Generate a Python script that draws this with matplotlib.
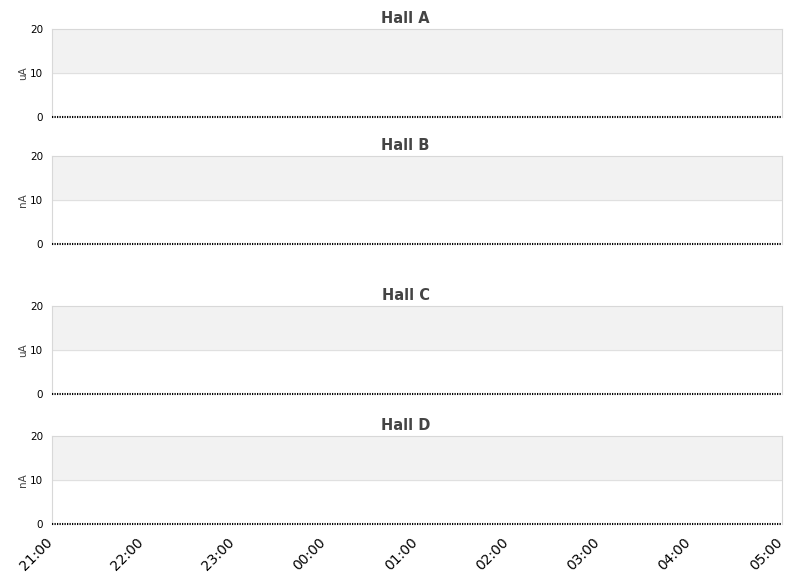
import numpy as np
import pandas as pd
import matplotlib.pyplot as plt
import matplotlib.dates as mdates
from matplotlib.transforms import ScaledTranslation

# beam current per hall, 21:00 -> 05:00 (all zero in this window)
halls = ['Hall A', 'Hall B', 'Hall C', 'Hall D']
units = ['uA', 'nA', 'uA', 'nA']
times = pd.date_range('2024-01-01 21:00', '2024-01-02 05:00', freq='5min')
currents = {h: np.zeros(len(times)) for h in halls}
yticks = [0, 10, 20]

fig = plt.figure(figsize=(8.11, 5.78), dpi=100)

W, H = 811, 578
# panel pixel boxes (top, bottom)
boxes = [(29, 117), (156, 244), (306, 394), (436, 524)]
left, right = 52, 782
title_x = (W / 2 - left) / (right - left)   # titles centred on the figure

for i, (hall, unit) in enumerate(zip(halls, units)):
    top, bot = boxes[i]
    ax = fig.add_axes([left / W, 1 - bot / H, (right - left) / W, (bot - top) / H])
    ax.axhspan(10, 20, color='#f2f2f2', zorder=0)
    ax.axhline(10, color='#e0e0e0', lw=0.8, zorder=1)
    ax.plot(times, currents[hall], color='black', lw=1.5, dashes=(0.6, 0.6),
            clip_on=False, zorder=3)
    ax.set_ylim(0, 20)
    ax.set_xlim(times[0], times[-1])
    ax.set_yticks(yticks)
    ax.tick_params(axis='y', length=0, pad=6.5, labelsize=7.5)
    ax.tick_params(axis='x', length=0)
    for s in ['left', 'right', 'top']:
        ax.spines[s].set_color('#d8d8d8')
        ax.spines[s].set_linewidth(0.8)
    ax.spines['bottom'].set_visible(False)
    ax.set_ylabel(unit, fontsize=7.5, color='#444444', labelpad=1)
    ax.set_title(hall, fontsize=10.5, fontweight='bold', color='#444444', pad=4, x=title_x)
    ax.xaxis.set_major_locator(mdates.HourLocator())
    ax.xaxis.set_major_formatter(mdates.DateFormatter('%H:%M'))
    if i < 3:
        ax.set_xticklabels([])
    else:
        ax.tick_params(axis='x', pad=8)
        shift = ScaledTranslation(-7 / 100, 0, fig.dpi_scale_trans)
        for lab in ax.get_xticklabels():
            lab.set_rotation(45)
            lab.set_ha('right')
            lab.set_rotation_mode('anchor')
            lab.set_fontsize(10)
            lab.set_transform(lab.get_transform() + shift)

fig.savefig('out.png', dpi=100)
